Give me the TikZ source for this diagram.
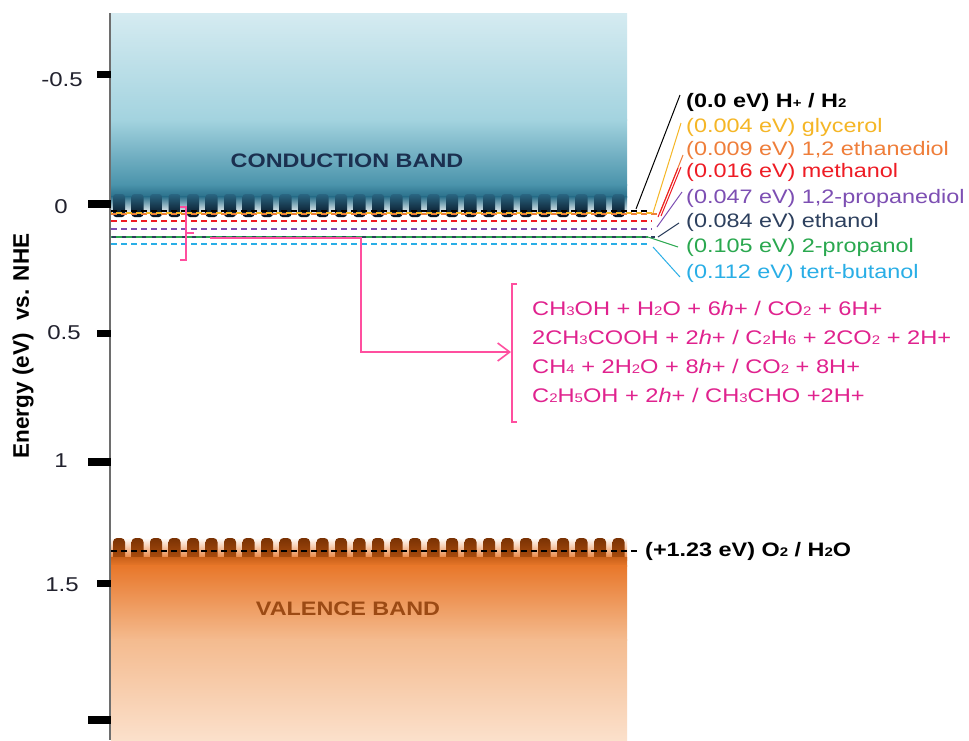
\documentclass[tikz,border=0pt]{standalone}
\usepackage{fontspec}
\setmainfont[FakeStretch=1.2]{Liberation Sans}
\newfontfamily\axisfont{Liberation Sans}
\usetikzlibrary{arrows.meta,calc}
\definecolor{cbA}{HTML}{D5EBF1}
\definecolor{cbB}{HTML}{A3D3DF}
\definecolor{cbC}{HTML}{4A93AB}
\definecolor{cbD}{HTML}{2A6F8A}
\definecolor{toothTop}{HTML}{2A6682}
\definecolor{toothBot}{HTML}{050F1E}
\definecolor{vbA}{HTML}{E8772A}
\definecolor{vbB}{HTML}{F4BB8F}
\definecolor{vbC}{HTML}{FBE0CB}
\definecolor{vtTop}{HTML}{7A3204}
\definecolor{vtBot}{HTML}{B5520F}
\definecolor{cbText}{HTML}{1B3050}
\definecolor{vbText}{HTML}{9C4A14}
\definecolor{axisgray}{HTML}{6E6E6E}
\definecolor{ticklbl}{HTML}{22222E}
\definecolor{cYel}{HTML}{F5B626}
\definecolor{cOra}{HTML}{EF7E3A}
\definecolor{cRed}{HTML}{EE1C25}
\definecolor{cPur}{HTML}{7D4FB3}
\definecolor{cNav}{HTML}{2D405E}
\definecolor{cGre}{HTML}{2AA84F}
\definecolor{cCya}{HTML}{29AEE6}
\definecolor{magText}{HTML}{E0228E}
\definecolor{magLine}{HTML}{FF4F9F}
\newcommand\lsm[1]{{\fontsize{12.5}{12.5}\selectfont #1}}
\begin{document}
\begin{tikzpicture}[x=1pt,y=-1pt,
  lbl/.style={anchor=west, inner sep=0pt, font=\fontsize{19.5}{20}\selectfont},
  ticklab/.style={inner sep=0pt, text=ticklbl, font=\fontsize{20}{20}\selectfont},
  tickmark/.style={fill=black, draw=none},
  lvl/.style={line width=1.3pt, dash pattern=on 6pt off 4pt},
  conn/.style={line width=1pt},
  magline/.style={draw=magLine, line width=1.6pt}]
\useasboundingbox (0,0) rectangle (969,740);
\fill[white] (0,0) rectangle (969,740);
% conduction band
\shade[top color=cbA, bottom color=cbB] (111,13) rectangle (627,120);
\shade[top color=cbB, bottom color=cbC] (111,119.5) rectangle (627,185);
\shade[top color=cbC, bottom color=cbD] (111,184.5) rectangle (627,197);
\shade[top color=cbD, bottom color=white] (111,196.5) rectangle (627,214);
\foreach \i in {0,...,27}{
  \shade[top color=toothTop, bottom color=toothBot, rounded corners=3pt]
    ({113+18.5*\i},194) rectangle ++(12,23);
}
% valence band
\shade[top color=white, bottom color=vbA] (111,538) rectangle (627,560);
\foreach \i in {0,...,27}{
  \shade[top color=vtTop, bottom color=vtBot, rounded corners=4pt]
    ({113+18.5*\i},538) rectangle ++(12,24);
}
\shade[top color=vtBot!60!vbA, bottom color=vbA] (111,557) rectangle (627,566);
\shade[top color=vbA, bottom color=vbB] (111,565.5) rectangle (627,640);
\shade[top color=vbB, bottom color=vbC] (111,639.5) rectangle (627,740);
\node[font=\bfseries\fontsize{19.5}{19.5}\selectfont, text=cbText] (cbl) at (347,161) {CONDUCTION BAND};
\node[font=\bfseries\fontsize{19.5}{19.5}\selectfont, text=vbText] (vbl) at (348,609) {VALENCE BAND};
% axis
\draw[axisgray, line width=2.2pt] (110,13) -- (110,740);
\fill[tickmark] (97,70.5) rectangle (111,77.5);
\fill[tickmark] (88,199.5) rectangle (111,207.5);
\fill[tickmark] (97,329.5) rectangle (111,336.5);
\fill[tickmark] (88,457.5) rectangle (111,465.5);
\fill[tickmark] (97,579.5) rectangle (111,586.5);
\fill[tickmark] (88,716) rectangle (111,724);
\node[ticklab] (t1) at (62,80) {-0.5};
\node[ticklab] (t2) at (61,207) {0};
\node[ticklab] (t3) at (64,333) {0.5};
\node[ticklab] (t4) at (61,461) {1};
\node[ticklab] (t5) at (62,585) {1.5};
\node[rotate=90, inner sep=0pt, font=\axisfont\bfseries\fontsize{22.5}{22.5}\selectfont] (ylab) at (23,346) {Energy (eV)\ \ vs. NHE};
% level lines
\draw[lvl, cCya] (111,244) -- (650,244);
\draw[lvl, cNav] (111,237) -- (655,237);
\draw[lvl, cGre, dash phase=5pt] (111,237) -- (648,237);
\draw[lvl, cPur] (111,229) -- (652,229);
\draw[lvl, cRed] (111,221) -- (652,221);
\draw[lvl, cOra] (111,214) -- (660,214);
\draw[lvl, cYel, dash phase=5pt] (111,213) -- (653,213);
\draw[lvl, black, line width=1.1pt] (111,211) -- (650,211);
\draw[lvl, black, line width=1.1pt] (111,551) -- (640,551);
% labels
\node[lbl, font=\bfseries\fontsize{19.5}{20}\selectfont] (hh) at (686,102) {(0.0 eV) H\lsm{+} / H\lsm{2}};
\node[lbl, text=cYel] (gly) at (686,127) {(0.004 eV) glycerol};
\node[lbl, text=cOra] (eth2) at (686,150) {(0.009 eV) 1,2 ethanediol};
\node[lbl, text=cRed] (meth) at (686,172) {(0.016 eV) methanol};
\node[lbl, text=cPur] (prop) at (686,198) {(0.047 eV) 1,2-propanediol};
\node[lbl, text=cNav] (etha) at (686,222) {(0.084 eV) ethanol};
\node[lbl, text=cGre] (iprop) at (686,247) {(0.105 eV) 2-propanol};
\node[lbl, text=cCya] (tbut) at (686,273) {(0.112 eV) tert-butanol};
\node[lbl, font=\bfseries\fontsize{19.5}{20}\selectfont] (o2) at (645,551) {(+1.23 eV) O\lsm{2} / H\lsm{2}O};
% connectors
\coordinate (hhL) at (636,209); \coordinate (hhU) at (680,95);
\coordinate (glyL) at (653,213); \coordinate (glyU) at (681,123);
\coordinate (ethL) at (660,213); \coordinate (ethU) at (683,155);
\coordinate (metL) at (658,217); \coordinate (metU) at (678,168);
\coordinate (metL2) at (661,216); \coordinate (metU2) at (681,167);
\coordinate (proL) at (657,227); \coordinate (proU) at (682,192);
\coordinate (etaL) at (658,237); \coordinate (etaU) at (679,223);
\coordinate (ipL) at (648,237); \coordinate (ipU) at (678,247);
\coordinate (tbL) at (653,247); \coordinate (tbU) at (680,277);
\draw[conn, black] (hhL) -- (hhU);
\draw[conn, cYel] (glyL) -- (glyU);
\draw[conn, cOra] (ethL) -- (ethU);
\draw[conn, cRed] (metL) -- (metU);
\draw[conn, cRed] (metL2) -- (metU2);
\draw[conn, cPur] (proL) -- (proU);
\draw[conn, cNav] (etaL) -- (etaU);
\draw[conn, cGre] (ipL) -- (ipU);
\draw[conn, cCya] (tbL) -- (tbU);
% magenta brace and arrow
\draw[magline] (180,207) -- (186,207) -- (186,260) -- (180,260);
\draw[magline] (186,233) -- (194,233);
\coordinate (mA) at (210,238);
\coordinate (mB) at (361,238);
\coordinate (mC) at (361,352);
\coordinate (mD) at (511,352);
\draw[magline, -{Straight Barb[length=12pt,width=18pt]}] (mA) -- (mB) -- (mC) -- (mD);
\draw[magline, line width=1.3pt] (517,284) -- (512,284) -- (512,422) -- (517,422);
\node[anchor=west, align=left, inner sep=0pt, text=magText, font=\fontsize{19.7}{29}\selectfont] (rx) at (532,352)
 {CH\lsm{3}OH + H\lsm{2}O + 6\textit{h}+ / CO\lsm{2} + 6H+\\
  2CH\lsm{3}COOH + 2\textit{h}+ / C\lsm{2}H\lsm{6} + 2CO\lsm{2} + 2H+\\
  CH\lsm{4} + 2H\lsm{2}O + 8\textit{h}+ / CO\lsm{2} + 8H+\\
  C\lsm{2}H\lsm{5}OH + 2\textit{h}+ / CH\lsm{3}CHO +2H+};
\end{tikzpicture}
\end{document}
